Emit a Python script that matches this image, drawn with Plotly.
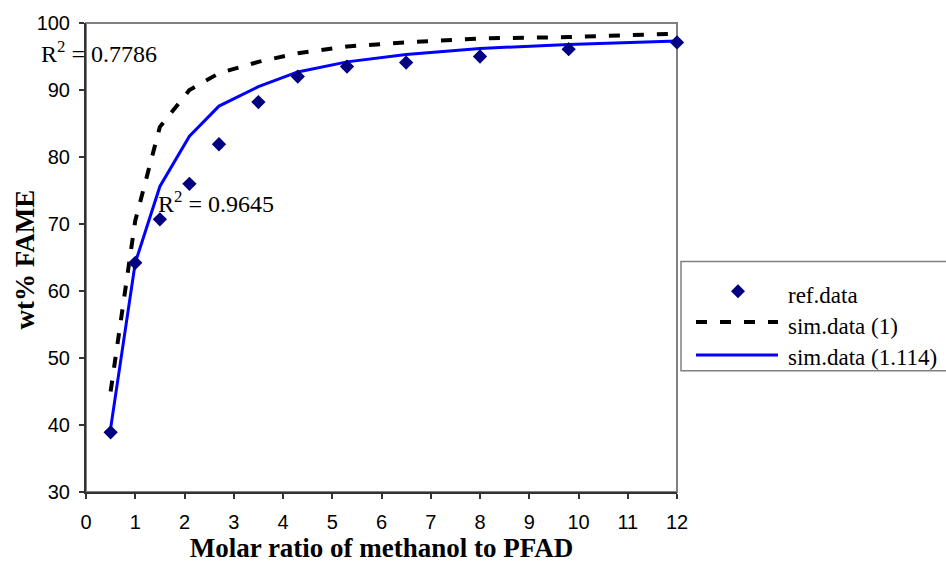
import plotly.graph_objects as go

# Molar ratio of methanol to PFAD
ratio = [0.5, 1, 1.5, 2.1, 2.7, 3.5, 4.3, 5.3, 6.5, 8, 9.8, 12]
# Reference (experimental) FAME yield, wt%
ref_data = [38.9, 64.2, 70.7, 76.0, 81.9, 88.2, 92.0, 93.5, 94.1, 95.0, 96.1, 97.1]
# Simulated yields for the two model parameters
sim_1 = [45.0, 70.5, 84.5, 90.0, 92.5, 94.2, 95.5, 96.5, 97.1, 97.7, 97.9, 98.4]
sim_1114 = [39.5, 64.2, 75.6, 83.1, 87.6, 90.5, 92.7, 94.2, 95.3, 96.2, 96.8, 97.3]

x_ticks = list(range(0, 13))
y_ticks = list(range(30, 101, 10))
series_names = ["ref.data", "sim.data (1)", "sim.data (1.114)"]
r2_labels = ["R<sup>2</sup> = 0.7786", "R<sup>2</sup> = 0.9645"]

W, H = 946, 568
ML, MR, MT, MB = 86, 269, 23, 73
PW, PH = W - ML - MR, H - MT - MB

SERIF = "Liberation Serif, Times New Roman, serif"
SANS = "Liberation Sans, Arial, sans-serif"
NAVY = "#000080"
BLUE = "#0000FF"


def px_x(p):
    return (p - ML) / PW


def px_y(p):
    return (H - MB - p) / PH


fig = go.Figure()

fig.add_trace(go.Scatter(
    x=ratio, y=sim_1, mode="lines", name=series_names[1],
    line=dict(color="black", width=4, dash="11px,13px"),
    showlegend=False,
))
fig.add_trace(go.Scatter(
    x=ratio, y=sim_1114, mode="lines", name=series_names[2],
    line=dict(color=BLUE, width=3),
    showlegend=False,
))
fig.add_trace(go.Scatter(
    x=ratio, y=ref_data, mode="markers", name=series_names[0],
    marker=dict(symbol="diamond", size=11, color=NAVY, line=dict(width=0)),
    showlegend=False, cliponaxis=False,
))

shapes = [
    # plot area frame
    dict(type="rect", xref="paper", yref="paper", x0=0, x1=1, y0=0, y1=1,
         line=dict(color="#808080", width=2), layer="below"),
    # legend box
    dict(type="rect", xref="paper", yref="paper",
         x0=px_x(681), x1=px_x(952), y0=px_y(373), y1=px_y(263),
         line=dict(color="#808080", width=1.5), fillcolor="white"),
    # legend samples
    dict(type="line", xref="paper", yref="paper",
         x0=px_x(696), x1=px_x(778), y0=px_y(324), y1=px_y(324),
         line=dict(color="black", width=4, dash="11px,13px")),
    dict(type="line", xref="paper", yref="paper",
         x0=px_x(696), x1=px_x(778), y0=px_y(357), y1=px_y(357),
         line=dict(color=BLUE, width=3)),
    dict(type="path", xref="paper", yref="paper",
         path=(f"M {px_x(738)} {px_y(286)} L {px_x(745)} {px_y(293)} "
               f"L {px_x(738)} {px_y(300)} L {px_x(731)} {px_y(293)} Z"),
         line=dict(width=0), fillcolor=NAVY),
]

annotations = [
    dict(text=r2_labels[0], xref="paper", yref="paper", x=px_x(39), y=px_y(52),
         xanchor="left", yanchor="middle", showarrow=False,
         font=dict(family=SERIF, size=24, color="black")),
    dict(text=r2_labels[1], xref="paper", yref="paper", x=px_x(156), y=px_y(203),
         xanchor="left", yanchor="middle", showarrow=False,
         font=dict(family=SERIF, size=24, color="black")),
    # y-axis title
    dict(text="<b>wt% FAME</b>", xref="paper", yref="paper",
         x=px_x(25), y=px_y(261), xanchor="center", yanchor="middle",
         textangle=-90, showarrow=False,
         font=dict(family=SERIF, size=27, color="black")),
]
for name, cy in zip(series_names, [297, 328, 360]):
    annotations.append(dict(
        text=name, xref="paper", yref="paper", x=px_x(786), y=px_y(cy),
        xanchor="left", yanchor="middle", showarrow=False,
        font=dict(family=SERIF, size=23, color="black")))

fig.update_layout(
    width=W, height=H,
    margin=dict(l=ML, r=MR, t=MT, b=MB, pad=0),
    paper_bgcolor="white", plot_bgcolor="white",
    showlegend=False,
    shapes=shapes,
    annotations=annotations,
)

fig.update_xaxes(
    range=[0, 12], tickvals=x_ticks, ticktext=[str(v) for v in x_ticks],
    showgrid=False, zeroline=False,
    showline=True, linecolor="#333333", linewidth=2,
    ticks="outside", ticklen=5, tickwidth=1.5, tickcolor="#333333",
    ticklabelstandoff=6,
    tickfont=dict(family=SANS, size=20, color="black"),
    title=dict(text="<b>Molar ratio of methanol to PFAD</b>",
               font=dict(family=SERIF, size=27, color="black"), standoff=4),
)
fig.update_yaxes(
    range=[30, 100], tickvals=y_ticks, ticktext=[str(v) for v in y_ticks],
    showgrid=False, zeroline=False,
    showline=True, linecolor="#333333", linewidth=2,
    ticks="outside", ticklen=5, tickwidth=1.5, tickcolor="#333333",
    ticklabelstandoff=5,
    tickfont=dict(family=SANS, size=20, color="black"),
)

fig.write_html("out.html")
